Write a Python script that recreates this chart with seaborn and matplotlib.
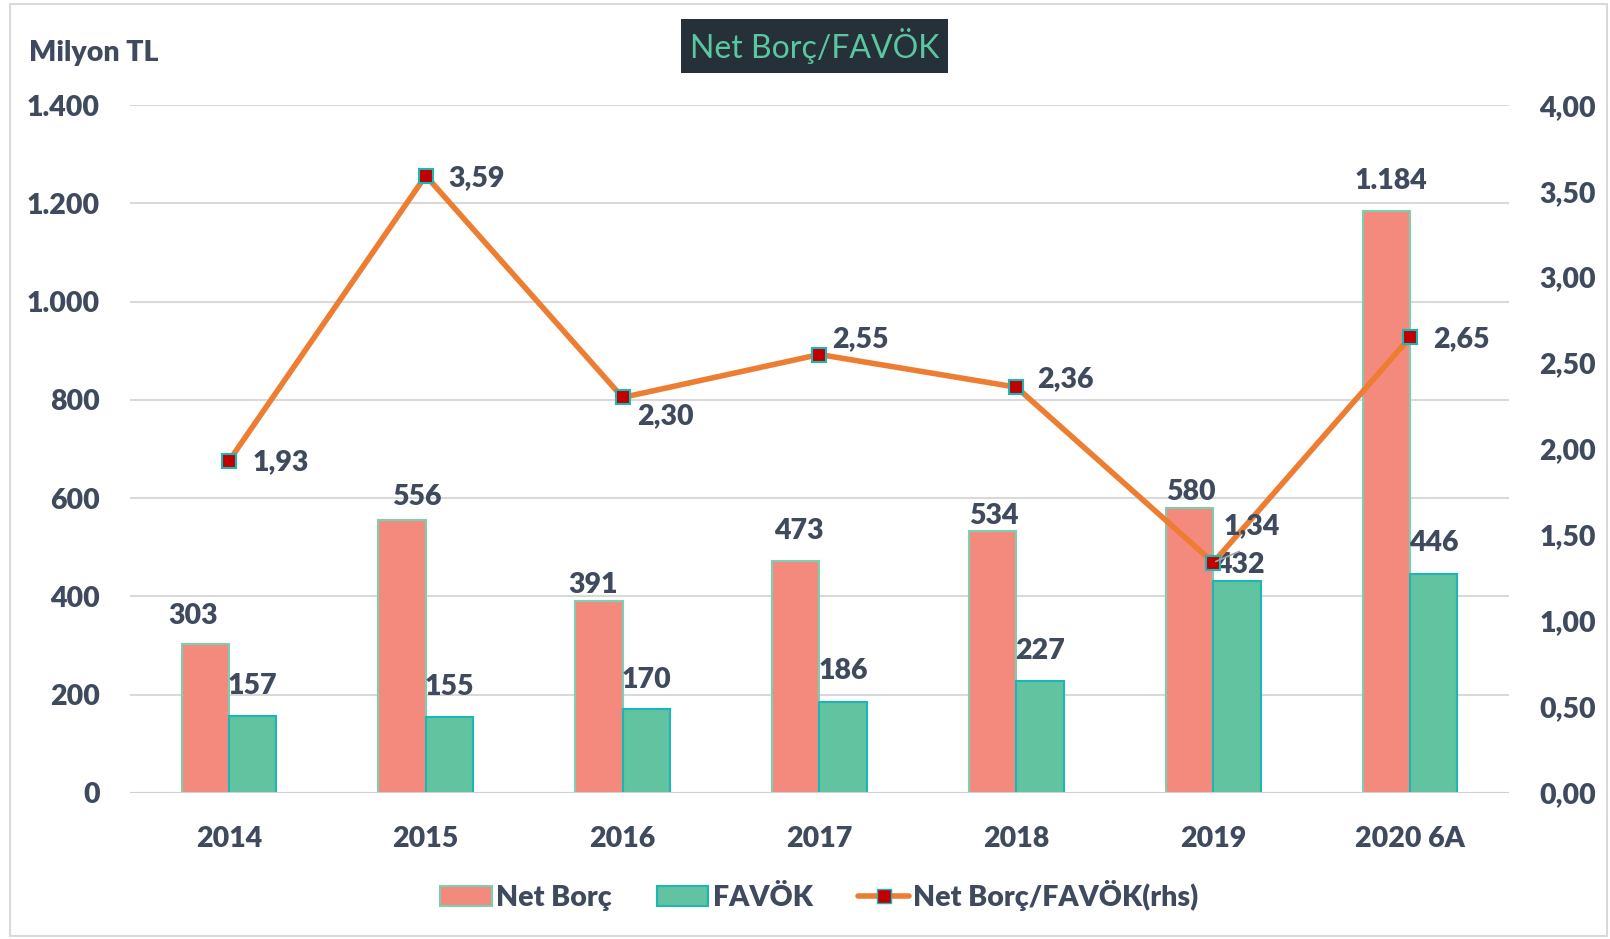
import numpy as np
import pandas as pd
import matplotlib.pyplot as plt
import seaborn as sns
from matplotlib.patches import Patch
from matplotlib.lines import Line2D

sns.set_theme(style="white")
plt.rcParams['font.family'] = ['Lato', 'DejaVu Sans']

# data
years = ['2014', '2015', '2016', '2017', '2018', '2019', '2020 6A']
net_borc = [303, 556, 391, 473, 534, 580, 1184]
favok = [157, 155, 170, 186, 227, 432, 446]
ratio = [1.93, 3.59, 2.30, 2.55, 2.36, 1.34, 2.65]

TXT = '#404A5E'
RED_BAR = '#F4897E'
GREEN_BAR = '#62C3A0'
ORANGE = '#ED7D31'
FS = 20.5


def tr_int(v):
    return f"{v:,.0f}".replace(',', '.')


def tr_dec(v):
    return f"{v:.2f}".replace('.', ',')


df = pd.DataFrame({'Yıl': years * 2,
                   'Değer': net_borc + favok,
                   'Seri': ['Net Borç'] * len(years) + ['FAVÖK'] * len(years)})

fig = plt.figure(figsize=(16.1, 9.39), dpi=100)
ax = fig.add_axes([0.081, 0.1555, 0.856, 0.7325])

sns.barplot(data=df, x='Yıl', y='Değer', hue='Seri', order=years,
            palette=[RED_BAR, GREEN_BAR], width=0.48, ax=ax, legend=False,
            saturation=1)
edge_cols = ['#7CCFB0', '#1BB7B7']
for i, cont in enumerate(ax.containers):
    for p in cont:
        p.set_edgecolor(edge_cols[i])
        p.set_linewidth(1.5)

ax.set_ylim(0, 1400)
ax.set_xlim(-0.5, 6.5)
ax.set_yticks(np.arange(0, 1401, 200))
ax.set_yticklabels([tr_int(v) for v in range(0, 1401, 200)])
ax.yaxis.grid(True, color='#D9D9D9', linewidth=1.5)
ax.set_axisbelow(True)
for s in ax.spines.values():
    s.set_visible(False)
ax.axhline(0, color='#D0D0D0', linewidth=1.5, zorder=1)
ax.set_xlabel('')
ax.set_ylabel('')
ax.tick_params(axis='both', length=0, labelsize=FS, labelcolor=TXT)
ax.tick_params(axis='x', pad=24)
ax.tick_params(axis='y', pad=22)
for t in ax.get_xticklabels() + ax.get_yticklabels():
    t.set_fontweight('heavy')

# bar labels (offsets in px)
nb_off = [(-12, 27), (14, 22), (-6, 15), (3, 29), (1, 14), (1, 16), (4, 29)]
fv_off = [(0, 29), (0, 29), (0, 29), (0, 30), (0, 30), (3, 15), (0, 30)]
for i, cont in enumerate(ax.containers):
    vals = net_borc if i == 0 else favok
    offs = nb_off if i == 0 else fv_off
    for p, v, (dx, dy) in zip(cont, vals, offs):
        ax.annotate(tr_int(v), (p.get_x() + p.get_width() / 2, p.get_height()),
                    xytext=(dx * 0.74, dy * 0.74), textcoords='offset points',
                    ha='center', va='center', fontsize=FS, fontweight='heavy',
                    color=TXT)

# ratio line on right axis
ax2 = ax.twinx()
xpos = np.arange(len(years))
sns.lineplot(x=xpos, y=ratio, ax=ax2, color=ORANGE, linewidth=4,
             marker='s', markersize=10, markerfacecolor='#C00000',
             markeredgecolor='#1BB7B7', markeredgewidth=1.5, legend=False)
ax2.set_ylim(0, 4)
ax2.set_yticks(np.arange(0, 4.01, 0.5))
ax2.set_yticklabels([tr_dec(v) for v in np.arange(0, 4.01, 0.5)])
ax2.tick_params(axis='y', length=0, labelsize=FS, labelcolor=TXT, pad=22)
for t in ax2.get_yticklabels():
    t.set_fontweight('heavy')
for s in ax2.spines.values():
    s.set_visible(False)
ax2.grid(False)
ax2.set_ylabel('')

r_off = [(23, 1), (22, 2), (14, 18), (12, -15), (20, -8), (10, -35), (22, 2)]
for x, v, (dx, dy) in zip(xpos, ratio, r_off):
    ax2.annotate(tr_dec(v), (x, v), xytext=(dx * 0.74, -dy * 0.74),
                 textcoords='offset points', ha='left', va='center',
                 fontsize=FS, fontweight='heavy', color=TXT)
# leader line for 1,34
ax2.annotate('', (xpos[5], ratio[5]), xytext=(28 * 0.74, 12 * 0.74),
             textcoords='offset points',
             arrowprops=dict(arrowstyle='-', color='#A6A6A6', lw=1.2))

# title box
fig.text(0.506, 0.951, 'Net Borç/FAVÖK', ha='center', va='center',
         fontsize=23, color='#5CC6A0',
         bbox=dict(boxstyle='square,pad=0.28', facecolor='#263039',
                   edgecolor='none'))
fig.text(0.018, 0.944, 'Milyon TL', ha='left', va='center', fontsize=FS,
         fontweight='heavy', color=TXT)

# legend
handles = [Patch(facecolor=RED_BAR, edgecolor=edge_cols[0], linewidth=1.5),
           Patch(facecolor=GREEN_BAR, edgecolor=edge_cols[1], linewidth=1.5),
           Line2D([0], [0], color=ORANGE, linewidth=4, marker='s',
                  markersize=10, markerfacecolor='#C00000',
                  markeredgecolor='#1BB7B7')]
leg = fig.legend(handles, ['Net Borç', 'FAVÖK', 'Net Borç/FAVÖK(rhs)'],
                 loc='center', bbox_to_anchor=(0.509, 0.046), ncol=3,
                 frameon=False, fontsize=FS, handlelength=1.8,
                 handletextpad=0.15, columnspacing=1.6)
for t in leg.get_texts():
    t.set_color(TXT)
    t.set_fontweight('heavy')

# outer frame
fig.patches.append(plt.Rectangle((0.006, 0.003), 0.992, 0.993,
                                 transform=fig.transFigure, fill=False,
                                 edgecolor='#D9D9D9', linewidth=1.5))

fig.savefig('out.png', dpi=100)
